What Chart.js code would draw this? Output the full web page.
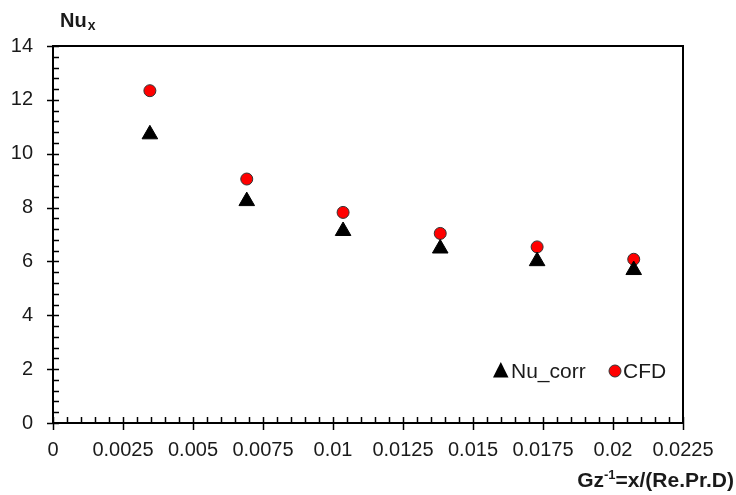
<!DOCTYPE html>
<html>
<head>
<meta charset="utf-8">
<script src="https://cdn.jsdelivr.net/npm/chart.js@4.4.0/dist/chart.umd.min.js"></script>
<style>
  html, body { margin: 0; padding: 0; background: #fff; }
  #wrap { width: 736px; height: 495px; }
</style>
</head>
<body>
<div id="wrap"><canvas id="nuChart"></canvas></div>
<script>
// =========================================
// DATA
// =========================================

const gzInv = [0.00346, 0.00692, 0.01036, 0.01383, 0.01729, 0.02074];

const nuCorr = [10.72, 8.24, 7.13, 6.48, 6.01, 5.68];

const nuCfd = [12.34, 9.06, 7.82, 7.04, 6.54, 6.08];

const xTickLabels = ["0", "0.0025", "0.005", "0.0075", "0.01",
  "0.0125", "0.015", "0.0175", "0.02", "0.0225"];

const yTickLabels = ["0", "2", "4", "6", "8", "10", "12", "14"];

const tickFont = { family: "Liberation Sans", size: 20 };


// =========================================
// FRAME, MINOR TICKS, TITLES, LEGEND
// =========================================

const framePlugin = {
  id: "frame",
  afterDraw(chart) {
    const ctx = chart.ctx;
    const a = chart.chartArea;
    const xs = chart.scales.x;
    const ys = chart.scales.y;

    ctx.save();
    ctx.strokeStyle = "#000";

    // top + right border
    ctx.lineWidth = 2;
    ctx.beginPath();
    ctx.moveTo(a.left - 1, a.top);
    ctx.lineTo(a.right, a.top);
    ctx.lineTo(a.right, a.bottom + 1);
    ctx.stroke();

    // y ticks (every 0.4, major every 2)
    ctx.lineWidth = 1.5;
    for (let i = 0; i <= 35; i++) {
      const py = Math.round(ys.getPixelForValue(i * 0.4)) + 0.5;
      const major = i % 5 === 0;
      ctx.beginPath();
      ctx.moveTo(a.left - (major ? 6 : 0), py);
      ctx.lineTo(a.left + 6, py);
      ctx.stroke();
    }

    // x ticks (every 0.0005, major every 0.0025)
    for (let i = 0; i <= 45; i++) {
      const px = Math.round(xs.getPixelForValue(i * 0.0005)) + 0.5;
      const major = i % 5 === 0;
      ctx.beginPath();
      ctx.moveTo(px, a.bottom - 6);
      ctx.lineTo(px, a.bottom + (major ? 7 : 0));
      ctx.stroke();
    }

    // y axis title: Nu with subscript x
    ctx.fillStyle = "#1a1a1a";
    ctx.textBaseline = "alphabetic";
    ctx.textAlign = "left";
    ctx.font = "bold 20px 'Liberation Sans'";
    ctx.fillText("Nu", 60, 27);
    let w = ctx.measureText("Nu").width;
    ctx.font = "bold 14px 'Liberation Sans'";
    ctx.fillText("x", 60 + w + 1, 30);

    // x axis title: Gz^-1=x/(Re.Pr.D), right aligned
    const big = "bold 21px 'Liberation Sans'";
    const small = "bold 13px 'Liberation Sans'";
    ctx.font = big;
    const w1 = ctx.measureText("Gz").width;
    const w3 = ctx.measureText("=x/(Re.Pr.D)").width;
    ctx.font = small;
    const w2 = ctx.measureText("-1").width;
    let tx = 734 - (w1 + w2 + w3);
    const base = 487;
    ctx.font = big;
    ctx.fillText("Gz", tx, base);
    ctx.font = small;
    ctx.fillText("-1", tx + w1, base - 8);
    ctx.font = big;
    ctx.fillText("=x/(Re.Pr.D)", tx + w1 + w2, base);

    // legend inside plot
    const ly = 371;
    ctx.fillStyle = "#000";
    ctx.beginPath();
    ctx.moveTo(500.8, ly - 9);
    ctx.lineTo(508.5, ly + 6.5);
    ctx.lineTo(493, ly + 6.5);
    ctx.closePath();
    ctx.fill();

    ctx.beginPath();
    ctx.arc(615, ly, 6, 0, Math.PI * 2);
    ctx.fillStyle = "#ff0000";
    ctx.fill();
    ctx.lineWidth = 1;
    ctx.strokeStyle = "#333";
    ctx.stroke();

    ctx.fillStyle = "#1a1a1a";
    ctx.font = "21px 'Liberation Sans'";
    ctx.fillText("Nu_corr", 511, ly + 7);
    ctx.fillText("CFD", 623, ly + 7);

    ctx.restore();
  }
};


// =========================================
// CHART
// =========================================

const nuCtx =
document.getElementById("nuChart");

new Chart(nuCtx, {

  type: "scatter",

  data: {

    datasets: [{

      label: "Nu_corr",

      data: gzInv.map((x, i) => ({ x: x, y: nuCorr[i] })),

      pointStyle: "triangle",

      pointRadius: 9,

      pointBackgroundColor: "#000",

      pointBorderColor: "#000",

      pointBorderWidth: 1
    }, {

      label: "CFD",

      data: gzInv.map((x, i) => ({ x: x, y: nuCfd[i] })),

      pointStyle: "circle",

      pointRadius: 6,

      pointBackgroundColor: "#ff0000",

      pointBorderColor: "#333",

      pointBorderWidth: 1
    }]
  },

  options: {

    responsive: true,

    maintainAspectRatio: false,

    animation: false,

    layout: {
      padding: { top: 46, right: 53, left: 0, bottom: 0 }
    },

    plugins: {
      legend: { display: false },
      tooltip: { enabled: false }
    },

    scales: {

      x: {
        type: "linear",
        min: 0,
        max: 0.0225,
        afterFit(scale) { scale.height = 72; },
        grid: { display: false, drawTicks: false },
        border: { display: true, color: "#000", width: 2 },
        ticks: {
          stepSize: 0.0025,
          autoSkip: false,
          maxRotation: 0,
          padding: 15,
          color: "#1a1a1a",
          font: tickFont,
          callback: (v) => xTickLabels[Math.round(v / 0.0025)]
        }
      },

      y: {
        min: 0,
        max: 14,
        afterFit(scale) { scale.width = 53; },
        grid: { display: false, drawTicks: false },
        border: { display: true, color: "#000", width: 2 },
        ticks: {
          stepSize: 2,
          padding: 20,
          color: "#1a1a1a",
          font: tickFont,
          callback: (v) => yTickLabels[Math.round(v / 2)]
        }
      }
    }
  },

  plugins: [framePlugin]
});
</script>
</body>
</html>
